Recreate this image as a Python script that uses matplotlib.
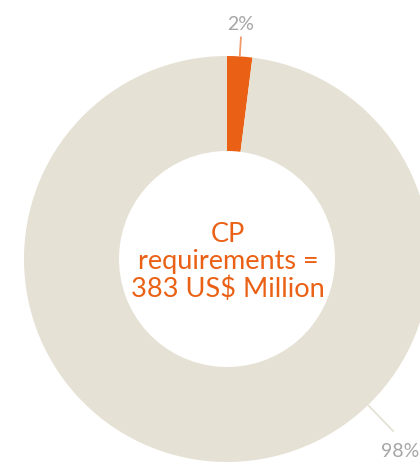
import numpy as np
import matplotlib.pyplot as plt

# CP share of requirements
labels = ['CP', 'Other']
shares = [2, 98]
colors = ['#EA6115', '#E6E1D5']
label_texts = ['2%', '98%']
centre_text = 'CP\nrequirements =\n383 US$ Million'

W, H = 420, 464
fig = plt.figure(figsize=(W / 100, H / 100), dpi=100)
ax = fig.add_axes([0, 0, 1, 1])

cx, cy = 227, H - 260
r_out, ring = 203, 95

ax.pie(shares, colors=colors, startangle=90, counterclock=False,
       center=(cx, cy), radius=r_out,
       wedgeprops=dict(width=ring, edgecolor='none'), frame=True)
ax.set_xlim(0, W)
ax.set_ylim(0, H)
ax.set_aspect('equal')
ax.axis('off')

# leader lines
lab_angles = [86.4, -46.0]
line_cols = ['#F19A6A', '#E6E1D5']
line_len = [19, 36]
for ang, lc, ll in zip(lab_angles, line_cols, line_len):
    a = np.deg2rad(ang)
    r1, r2 = r_out + 1, r_out + ll
    ax.plot([cx + r1 * np.cos(a), cx + r2 * np.cos(a)],
            [cy + r1 * np.sin(a), cy + r2 * np.sin(a)], color=lc, lw=1.3)

# percentage labels
ax.text(241, H - 24, label_texts[0], ha='center', va='center',
        fontsize=14, color='#A6A6A6', family='Lato')
ax.text(419, H - 452, label_texts[1], ha='right', va='center',
        fontsize=14, color='#A6A6A6', family='Lato')

ax.text(cx + 1, cy - 2, centre_text, ha='center', va='center', fontsize=19.5,
        color='#EA6115', family='Lato', linespacing=1.1)

fig.savefig('out.png', dpi=100)
